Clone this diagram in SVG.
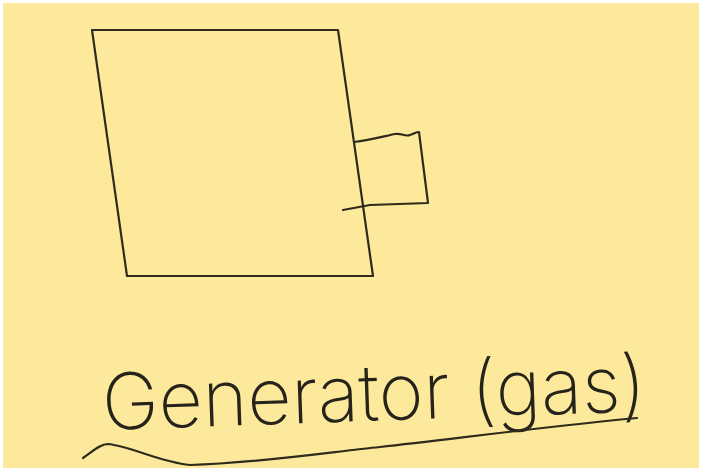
<svg xmlns="http://www.w3.org/2000/svg" width="702" height="471" viewBox="0 0 702 471">
<style>
.ink{fill:none;stroke:#2e2b1c;stroke-width:2.2;stroke-linejoin:round;stroke-linecap:round}
.lbl{font-family:Inter,"Liberation Sans",Arial,sans-serif;font-size:78px;font-weight:200;fill:#26241a}
</style>
<rect x="0" y="0" width="702" height="471" fill="#ffffff"/>
<rect x="3" y="3" width="696" height="465" fill="#fde99c"/>
<g id="generator">
<path class="ink" d="M92,30 L338,30 L373,276 L127,276 Z"/>
</g>
<g id="outlet">
<path class="ink" d="M354,142 C370,140 385,136 395,134 C402,133 405,137 410,135 C414,134 416,132 419,132 L428,203 L370,205 L343,210"/>
</g>
<g id="label">
<text class="lbl" x="103" y="430" textLength="544" lengthAdjust="spacingAndGlyphs" transform="rotate(-2 103 430)">Generator (gas)</text>
<path class="ink" d="M83,458 C92,452 100,444 108,444 C130,446 160,462 190,465 C260,463 330,452 380,447 C460,438 560,425 637,418"/>
</g>
</svg>
